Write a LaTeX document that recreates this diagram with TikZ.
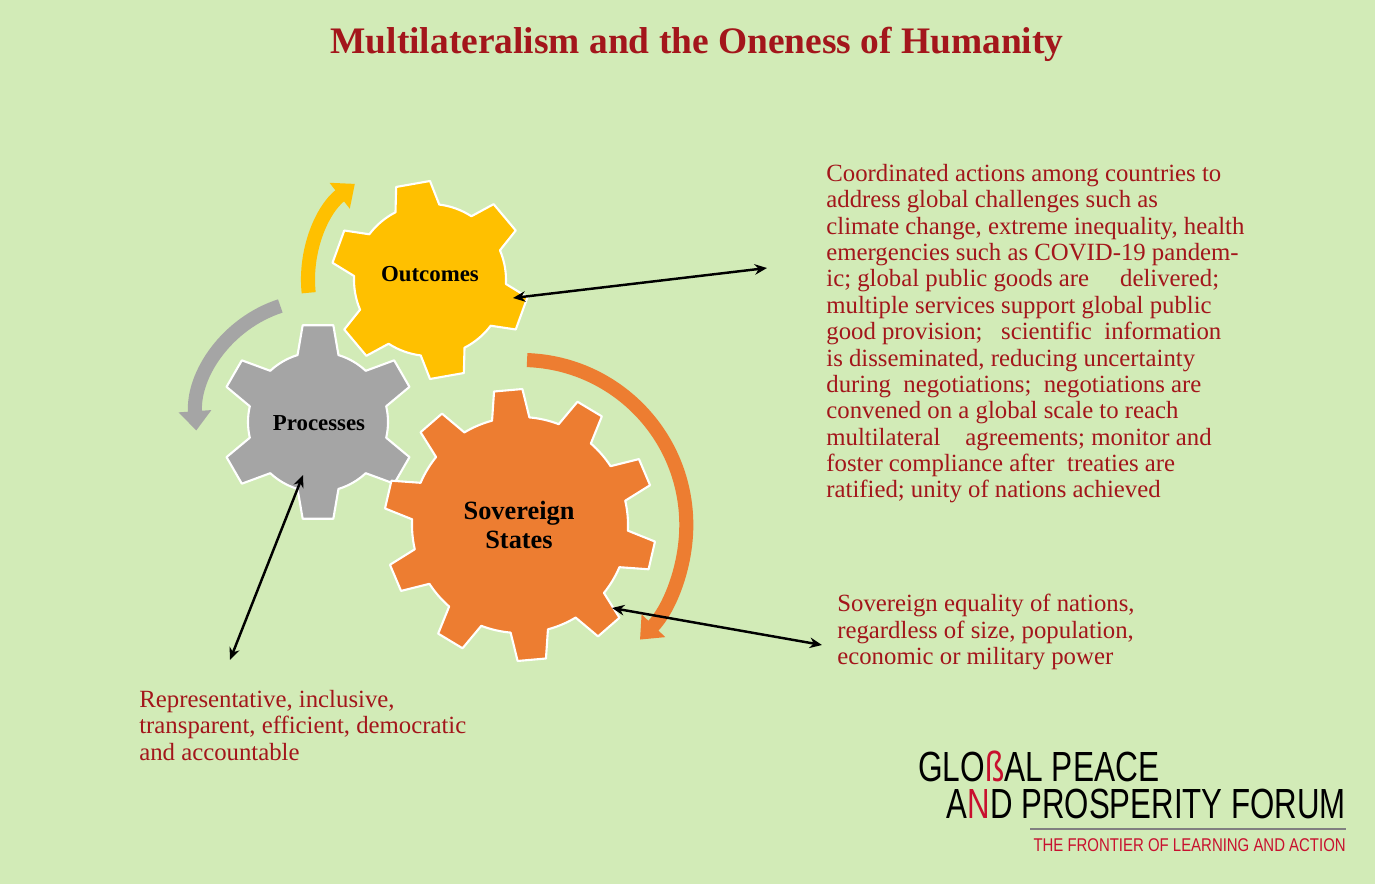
\documentclass[tikz,border=0pt]{standalone}
\usepackage{fontspec}
\usepackage{graphicx}
\setmainfont{Liberation Serif}
\newfontfamily\logofont{Liberation Sans}
\usetikzlibrary{arrows.meta}
\definecolor{bg}{HTML}{D2EBB7}
\definecolor{dred}{HTML}{A3161B}
\definecolor{gyellow}{HTML}{FFC000}
\definecolor{ggray}{HTML}{A5A5A5}
\definecolor{gorange}{HTML}{ED7D31}
\definecolor{lred}{HTML}{C8102E}
\newcommand\mygear[9]{%
 \begin{scope}[shift={(#1,#2)},yscale=-1]
 \pgfmathsetmacro\gd{360/#3}
 \fill[#9] ({#6-#8}:#5) \foreach \i in {1,...,#3}{
   -- ({#6+(\i-1)*\gd-#7}:#4) -- ({#6+(\i-1)*\gd+#7}:#4)
   -- ({#6+(\i-1)*\gd+#8}:#5)
   arc[start angle={#6+(\i-1)*\gd+#8}, end angle={#6+\i*\gd-#8}, radius=#5]} -- cycle;
 \end{scope}}
\tikzset{
 gearfill/.style={fill=#1, draw=white, line width=1.2pt, line join=round},
 curved/.style={draw=#1, line width=8pt, -{Triangle[width=18pt,length=11pt]}},
 link/.style={black, line width=1.4pt, {Stealth[length=7pt,width=6pt]}-{Stealth[length=7pt,width=6pt]}},
 body/.style={text=dred, font=\fontsize{14.1}{15}\selectfont, align=left, inner sep=0pt, anchor=north west},
 glabel/.style={text=black, align=center}
}
\begin{document}
\begin{tikzpicture}[x=0.02cm,y=-0.02cm]
\fill[bg] (0,0) rectangle (1375,884);
\useasboundingbox (0,0) rectangle (1375,884);
\node[text=dred, font=\bfseries\fontsize{21.3}{25}\selectfont] (title) at (697,44) {Multilateralism and the Oneness of Humanity};
% gears
\mygear{430}{280}{6}{99}{76}{100}{10}{17}{gearfill=gyellow}
\mygear{318}{422}{6}{98}{70}{90}{9}{17}{gearfill=ggray}
\mygear{520}{525}{10}{136}{108}{95}{6}{10}{gearfill=gorange}
\node[glabel, font=\bfseries\fontsize{13}{15}\selectfont] (out) at (430,274) {Outcomes};
\node[glabel, font=\bfseries\fontsize{13}{15}\selectfont] (proc) at (319,423) {Processes};
\node[glabel, font=\bfseries\fontsize{15}{16}\selectfont] (sov) at (519,525) {Sovereign\\States};
% curved arrows
\begin{scope}[shift={(430,280)},yscale=-1]
\draw[curved=gyellow] (186:122) arc[start angle=186,end angle=128,radius=122];
\end{scope}
\begin{scope}[shift={(318,422)},yscale=-1]
\draw[curved=ggray] (108:122) arc[start angle=108,end angle=184,radius=122];
\end{scope}
\begin{scope}[shift={(522,505)},yscale=-1]
\draw[curved=gorange] (88:145) arc[start angle=88,end angle=-44,radius=165];
\end{scope}
% texts
\node[body] (t1) at (826,164) {Coordinated actions among countries to\\
address global challenges such as\\
climate change, extreme inequality, health\\
emergencies such as COVID-19 pandem-\\
ic; global public goods are \quad delivered;\\
multiple services support global public\\
good provision; \ \ scientific \ information\\
is disseminated, reducing uncertainty\\
during \ negotiations; \ negotiations are\\
convened on a global scale to reach\\
multilateral \ \ \ agreements; monitor and\\
foster compliance after \ treaties are\\
ratified; unity of nations achieved};
\node[body] (t2) at (837,594) {Sovereign equality of nations,\\regardless of size, population,\\economic or military power};
\node[body] (t3) at (139,690) {Representative, inclusive,\\transparent, efficient, democratic\\and accountable};
% links
\coordinate (a1) at (513,298); \coordinate (b1) at (767,268);
\coordinate (a2) at (303,475); \coordinate (b2) at (230,660);
\coordinate (a3) at (612,608); \coordinate (b3) at (822,645);
\draw[link] (a1) -- (b1);
\draw[link] (a2) -- (b2);
\draw[link] (a3) -- (b3);
% logo
\node[anchor=base west, inner sep=0pt, font=\logofont\fontsize{24}{24}\selectfont] (l1) at (918,781) {\scalebox{0.75}[1]{GLO{\color{lred}ß}AL PEACE}};
\node[anchor=base east, inner sep=0pt, font=\logofont\fontsize{24}{24}\selectfont] (l2) at (1346,818) {\scalebox{0.74}[1]{A{\color{lred}N}D PROSPERITY FORUM}};
\draw[gray, line width=1pt] (1030,829) -- (1346,829);
\node[anchor=base east, inner sep=0pt, text=lred, font=\logofont\fontsize{10.5}{12}\selectfont] (l3) at (1346,851) {\scalebox{0.81}[1]{THE FRONTIER OF LEARNING AND ACTION}};
\end{tikzpicture}
\end{document}
